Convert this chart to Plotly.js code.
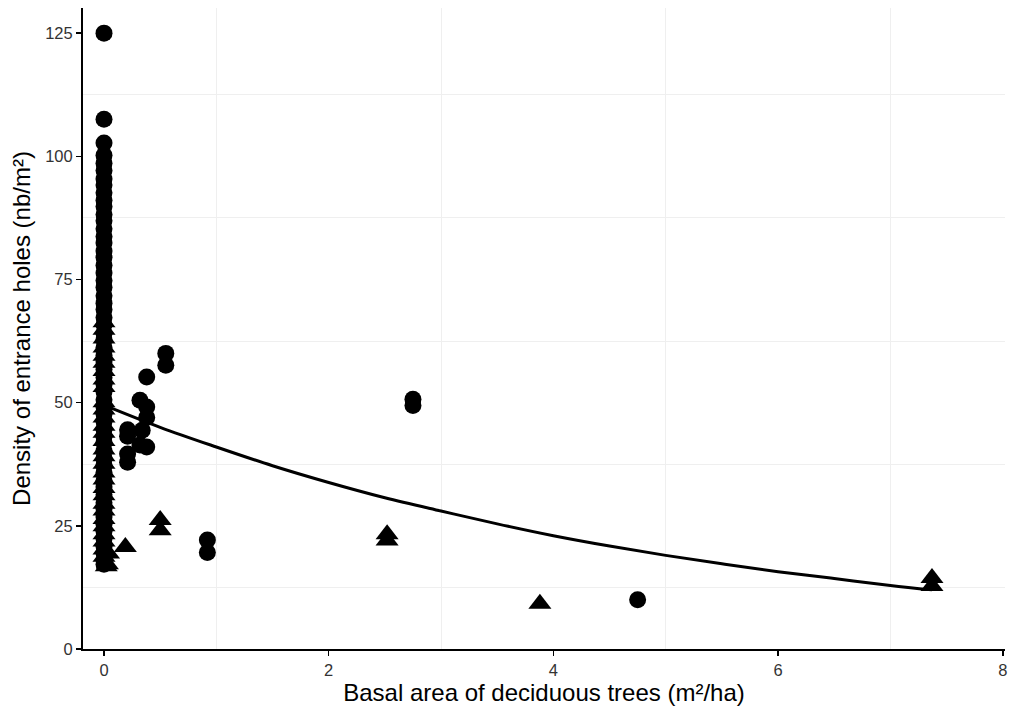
<!DOCTYPE html>
<html>
<head>
<meta charset="utf-8">
<script src="https://cdn.plot.ly/plotly-3.0.1.min.js"></script>
<style>html,body{margin:0;padding:0;background:#fff;}#chart{width:1013px;height:719px;}</style>
</head>
<body>
<div id="chart"></div>
<script>
// Circle points (group 1)
const circleX = [
  0, 0, 0, 0, 0, 0, 0, 0, 0, 0,
  0, 0, 0, 0, 0, 0, 0, 0, 0, 0,
  0, 0, 0, 0, 0, 0, 0, 0, 0, 0,
  0, 0, 0, 0, 0, 0, 0, 0, 0, 0,
  0, 0, 0, 0, 0, 0, 0, 0, 0, 0,
  0, 0, 0, 0, 0, 0, 0, 0, 0, 0,
  0.21, 0.21, 0.21, 0.21, 0.32, 0.38, 0.38, 0.38, 0.38, 0.32, 0.34,
  0.55, 0.55, 0.92, 0.92, 2.75, 2.75, 4.75
];
const circleY = [
  125, 107.5, 102.7, 100.2, 98.6, 97.1, 95.4, 94.2, 92.6, 91.1,
  89.8, 88.2, 86.9, 85.3, 83.7, 82.4, 80.8, 79.5, 77.9, 76.3,
  74.8, 73.4, 71.7, 70.2, 68.9, 67.3, 65.8, 64.1, 62.7, 61.2,
  59.6, 58.3, 56.8, 55.1, 53.7, 52.2, 50.6, 49.1, 47.7, 46.2,
  44.6, 43.1, 41.8, 40.2, 38.7, 37.3, 35.8, 34.2, 32.9, 31.3,
  29.7, 28.4, 26.8, 25.3, 23.9, 22.4, 20.8, 19.5, 18.1, 17.2,
  44.5, 43.2, 39.6, 37.9, 50.5, 55.2, 49.1, 47.0, 41.0, 41.4, 44.4,
  60.0, 57.6, 22.1, 19.6, 50.7, 49.4, 10.0
];
// Triangle points (group 2)
const triangleX = [
  0, 0, 0, 0, 0, 0, 0, 0, 0, 0,
  0, 0, 0, 0, 0, 0, 0, 0, 0, 0,
  0, 0, 0, 0, 0, 0, 0, 0, 0, 0,
  0.03, 0.02, 0.04,
  0.19, 0.5, 0.5, 2.52, 2.52, 3.88, 7.37, 7.37
];
const triangleY = [
  66.3, 64.8, 63.0, 61.2, 59.5, 58.1, 56.4, 54.7, 53.2, 50.1,
  48.6, 47.0, 45.3, 43.9, 42.2, 40.5, 39.1, 37.6, 35.8, 34.4,
  32.7, 31.2, 29.5, 28.1, 26.4, 24.9, 23.3, 21.8, 20.2, 18.7,
  17.2, 16.8, 19.4,
  20.7, 26.2, 24.1, 23.3, 22.0, 9.2, 14.4, 12.8
];
// Fitted curve
const fitX = [0, 0.5, 1, 1.5, 2, 2.5, 3, 3.5, 4, 4.5, 5, 5.5, 6, 6.5, 7, 7.37];
const fitY = [49.5, 45.0, 41.0, 37.2, 33.8, 30.7, 28.0, 25.4, 23.0, 20.9, 19.0, 17.3, 15.7, 14.3, 12.9, 12.0];

const xTickVals = [0, 2, 4, 6, 8];
const yTickVals = [0, 25, 50, 75, 100, 125];

const FONT = 'Liberation Sans, Arial, sans-serif';

const traces = [
  {x: fitX, y: fitY, type: 'scatter', mode: 'lines', line: {color: '#000', width: 3, shape: 'spline'}, hoverinfo: 'skip'},
  {x: triangleX, y: triangleY, type: 'scatter', mode: 'markers', marker: {symbol: 'triangle-up', size: 20, color: '#000'}},
  {x: circleX, y: circleY, type: 'scatter', mode: 'markers', marker: {symbol: 'circle', size: 17, color: '#000'}}
];

const layout = {
  width: 1013, height: 719,
  margin: {l: 83, r: 8, t: 8, b: 70},
  paper_bgcolor: '#fff', plot_bgcolor: '#fff',
  showlegend: false,
  font: {family: FONT, color: '#000'},
  xaxis: {
    range: [-0.187, 8.02],
    tickvals: xTickVals, ticktext: xTickVals.map(String),
    showgrid: false, zeroline: false,
    showline: true, linecolor: '#000', linewidth: 2,
    ticks: 'outside', ticklen: 5, tickwidth: 1.5, tickcolor: '#000',
    tickfont: {family: FONT, size: 16.5, color: '#333'},
    minor: {tick0: 1, dtick: 2, showgrid: true, gridcolor: '#efefef', gridwidth: 1, ticks: ''},
    title: {text: 'Basal area of deciduous trees (m²/ha)', font: {family: FONT, size: 24, color: '#000'}, standoff: 4}
  },
  yaxis: {
    range: [0, 130.1],
    tickvals: yTickVals, ticktext: yTickVals.map(String),
    showgrid: false, zeroline: false,
    showline: true, linecolor: '#000', linewidth: 2,
    ticks: 'outside', ticklen: 5, tickwidth: 1.5, tickcolor: '#000',
    tickfont: {family: FONT, size: 16.5, color: '#333'},
    minor: {tick0: 12.5, dtick: 25, showgrid: true, gridcolor: '#efefef', gridwidth: 1, ticks: ''},
    title: {text: 'Density of entrance holes (nb/m²)', font: {family: FONT, size: 24, color: '#000'}, standoff: 8}
  }
};

Plotly.newPlot('chart', traces, layout, {staticPlot: true, displayModeBar: false});
</script>
</body>
</html>
